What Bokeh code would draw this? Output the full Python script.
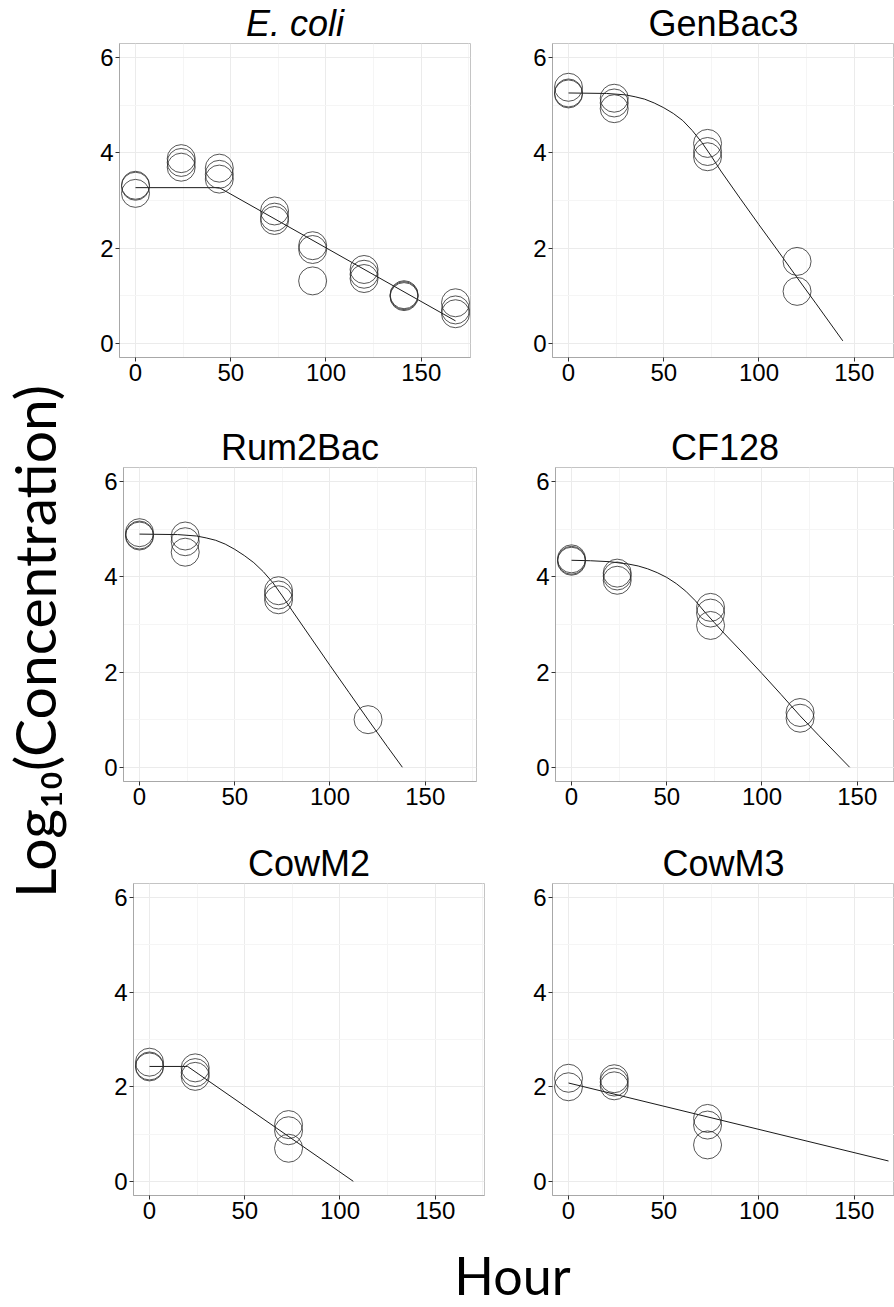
import numpy as np
from bokeh.plotting import figure
from bokeh.models import Range1d, FixedTicker
from bokeh.layouts import row, column
from bokeh.embed import file_html
from bokeh.resources import INLINE
from bokeh.core.properties import value

# ---------------- data ----------------
TITLES = ["E. coli", "GenBac3", "Rum2Bac", "CF128", "CowM2", "CowM3"]

ECOLI_X = [0, 0, 0, 24, 24, 24, 44, 44, 44, 73, 73, 73, 93, 93, 93, 120, 120, 120, 141, 141, 141, 168, 168, 168]
ECOLI_Y = [3.32, 3.30, 3.15, 3.88, 3.80, 3.70, 3.68, 3.55, 3.45, 2.78, 2.65, 2.58, 2.05, 1.97, 1.31, 1.55, 1.45, 1.36, 1.02, 1.00, 0.98, 0.85, 0.70, 0.62]
ECOLI_FIT_X = [0, 44, 168]
ECOLI_FIT_Y = [3.27, 3.27, 0.47]

GENBAC3_X = [0, 0, 0, 24, 24, 24, 73, 73, 73, 120, 120]
GENBAC3_Y = [5.38, 5.26, 5.24, 5.15, 5.05, 4.93, 4.20, 4.03, 3.92, 1.72, 1.09]
GENBAC3_FIT_X = [0, 20, 30, 35, 40, 45, 50, 55, 60, 65, 70, 75, 80, 90, 100, 110, 120, 130, 144]
GENBAC3_FIT_Y = [5.26, 5.25, 5.22, 5.18, 5.13, 5.05, 4.95, 4.83, 4.68, 4.47, 4.22, 3.93, 3.62, 3.05, 2.49, 1.94, 1.38, 0.83, 0.05]

RUM2BAC_X = [0, 0, 0, 24, 24, 24, 73, 73, 73, 120]
RUM2BAC_Y = [4.93, 4.88, 4.86, 4.86, 4.74, 4.52, 3.71, 3.62, 3.52, 1.00]
RUM2BAC_FIT_X = [0, 20, 30, 35, 40, 45, 50, 55, 60, 65, 70, 75, 80, 90, 100, 110, 120, 130, 138]
RUM2BAC_FIT_Y = [4.90, 4.89, 4.86, 4.82, 4.77, 4.69, 4.58, 4.45, 4.30, 4.11, 3.88, 3.60, 3.30, 2.72, 2.14, 1.57, 1.00, 0.44, 0.00]

CF128_X = [0, 0, 0, 24, 24, 24, 73, 73, 73, 120, 120]
CF128_Y = [4.38, 4.35, 4.33, 4.08, 4.02, 3.93, 3.36, 3.24, 2.98, 1.15, 1.03]
CF128_FIT_X = [0, 10, 20, 30, 35, 40, 45, 50, 55, 60, 65, 70, 75, 80, 90, 100, 110, 120, 130, 146]
CF128_FIT_Y = [4.35, 4.34, 4.32, 4.27, 4.23, 4.17, 4.09, 3.99, 3.86, 3.70, 3.50, 3.26, 3.04, 2.82, 2.40, 1.97, 1.53, 1.08, 0.66, 0.00]

COWM2_X = [0, 0, 0, 24, 24, 24, 73, 73, 73]
COWM2_Y = [2.52, 2.44, 2.42, 2.40, 2.30, 2.22, 1.20, 1.07, 0.70]
COWM2_FIT_X = [0, 20, 107]
COWM2_FIT_Y = [2.43, 2.43, 0.00]

COWM3_X = [0, 0, 24, 24, 24, 73, 73, 73]
COWM3_Y = [2.18, 2.00, 2.17, 2.10, 2.02, 1.33, 1.19, 0.77]
COWM3_FIT_X = [0, 168]
COWM3_FIT_Y = [2.08, 0.43]

X_TICKS = [0, 50, 100, 150]
X_MINOR = [25, 75, 125, 175]
Y_TICKS = [0, 2, 4, 6]
Y_MINOR = [1, 3, 5]

Y_LABEL = "Log\u2081\u2080(Concentration)"
X_LABEL = "Hour"

POINTS = [(ECOLI_X, ECOLI_Y), (GENBAC3_X, GENBAC3_Y), (RUM2BAC_X, RUM2BAC_Y),
          (CF128_X, CF128_Y), (COWM2_X, COWM2_Y), (COWM3_X, COWM3_Y)]
FITS = [(ECOLI_FIT_X, ECOLI_FIT_Y), (GENBAC3_FIT_X, GENBAC3_FIT_Y), (RUM2BAC_FIT_X, RUM2BAC_FIT_Y),
        (CF128_FIT_X, CF128_FIT_Y), (COWM2_FIT_X, COWM2_FIT_Y), (COWM3_FIT_X, COWM3_FIT_Y)]

# ---------------- layout (pixels) ----------------
LEFT_W = 90          # y label strip
COL_W = [410, 394]   # left / right column figure widths
ROW_H = [410, 425, 405]
XLAB_H = 67
# (min_border_left, min_border_right, min_border_top, min_border_bottom)
GEOM = [
    (29, 30, 43, 53), (52, 0, 43, 53),
    (33, 24, 57, 54), (55, 0, 57, 54),
    (43, 16, 45, 45), (52, 0, 48, 42),
]
X_START = -8.4
PX_PER_HOUR = 352 / 184.8
Y_RANGE = (-0.3, 6.3)

TICK_FONT = "Liberation Sans"


def make_panel(i):
    r, c = divmod(i, 2)
    mbl, mbr, mbt, mbb = GEOM[i]
    w, h = COL_W[c], ROW_H[r]
    frame_w = w - mbl - mbr
    x_end = X_START + frame_w / PX_PER_HOUR
    p = figure(width=w, height=h, x_range=Range1d(X_START, x_end),
               y_range=Range1d(*Y_RANGE), output_backend="svg",
               toolbar_location=None, min_border_left=mbl, min_border_right=mbr,
               min_border_top=mbt, min_border_bottom=mbb)
    p.background_fill_color = "white"
    p.border_fill_color = "white"
    p.outline_line_color = "#C4C4C4"
    p.outline_line_width = 1

    p.title.text = TITLES[i]
    p.title.align = "center"
    p.title.text_font = TICK_FONT
    p.title.text_font_size = "36px"
    p.title.text_color = "black"
    p.title.text_font_style = "italic" if i == 0 else "normal"
    p.title.standoff = 0

    p.xaxis.ticker = FixedTicker(ticks=X_TICKS, minor_ticks=X_MINOR)
    p.yaxis.ticker = FixedTicker(ticks=Y_TICKS, minor_ticks=Y_MINOR)
    for ax in (p.xaxis[0], p.yaxis[0]):
        ax.axis_line_color = "#A8A8A8"
        ax.major_tick_line_color = "#333333"
        ax.major_tick_out = 4
        ax.major_tick_in = 0
        ax.minor_tick_line_color = None
        ax.major_label_text_font = TICK_FONT
        ax.major_label_text_font_size = "24px"
        ax.major_label_text_color = "black"
        ax.major_label_standoff = 2
    for g in (p.xgrid[0], p.ygrid[0]):
        g.grid_line_color = "#EBEBEB"
        g.grid_line_width = 1
        g.minor_grid_line_color = "#F5F5F5"
        g.minor_grid_line_width = 1

    fx, fy = FITS[i]
    p.line(fx, fy, line_color="#1a1a1a", line_width=1)
    px, py = POINTS[i]
    p.scatter(px, py, marker="circle", size=28, fill_color=None,
              line_color="#2b2b2b", line_width=0.8)
    return p


panels = [make_panel(i) for i in range(6)]

# y label strip
total_h = sum(ROW_H) + XLAB_H
ylab = figure(width=LEFT_W, height=total_h, x_range=Range1d(0, LEFT_W),
              y_range=Range1d(total_h, 0), output_backend="svg",
              toolbar_location=None, x_axis_type=None, y_axis_type=None,
              min_border=0)
ylab.outline_line_color = None
ylab.xgrid.visible = False
ylab.ygrid.visible = False
ylab.text(x=[33], y=[641], text=[Y_LABEL], angle=np.pi / 2,
          text_align="center", text_baseline="alphabetic",
          text_font=value("Lato"), text_font_size="57px", text_color="black")

# x label strip
xw = sum(COL_W)
top = sum(ROW_H)
xlab = figure(width=xw, height=XLAB_H, x_range=Range1d(LEFT_W, LEFT_W + xw),
              y_range=Range1d(top + XLAB_H, top), output_backend="svg",
              toolbar_location=None, x_axis_type=None, y_axis_type=None,
              min_border=0)
xlab.outline_line_color = None
xlab.xgrid.visible = False
xlab.ygrid.visible = False
xlab.text(x=[512], y=[1274], text=[X_LABEL], text_align="center",
          text_baseline="alphabetic", text_font=value("Lato"),
          text_font_size="52px", text_color="black")

grid = column(row(panels[0], panels[1]), row(panels[2], panels[3]),
              row(panels[4], panels[5]), xlab)
layout = row(ylab, grid)

open("out.html", "w").write(file_html(layout, INLINE))
